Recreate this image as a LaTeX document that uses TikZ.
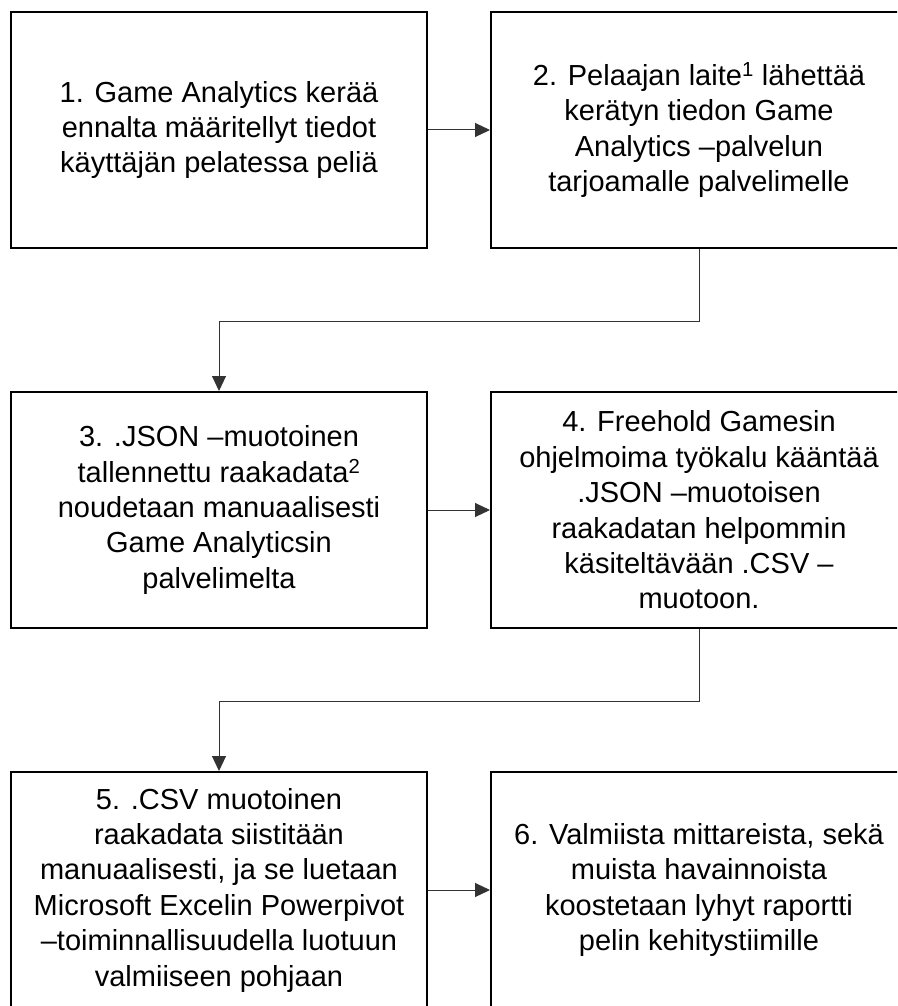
\documentclass[tikz,border=0pt]{standalone}
\usepackage{fontspec}
\setmainfont{Liberation Sans}
\usetikzlibrary{arrows.meta}
\begin{document}
\begin{tikzpicture}[x=1pt,y=-1pt,
  stepbox/.style={draw=black, line width=2pt, rectangle, minimum width=416pt, minimum height=236pt,
    align=center, inner sep=0pt, font=\fontsize{29}{35.4}\selectfont},
  flow/.style={draw=black!80, line width=1pt, -{Triangle[length=15pt,width=14pt]}}]
\useasboundingbox (0,0) rectangle (897,1006);
\fill[white] (0,0) rectangle (897,1006);
\clip (0,0) rectangle (897,1006);
\node[stepbox] (b1) at (219,130) {1. Game Analytics kerää\\ennalta määritellyt tiedot\\käyttäjän pelatessa peliä};
\node[stepbox] (b2) at (699,130) {2. Pelaajan laite\textsuperscript{1} lähettää\\kerätyn tiedon Game\\Analytics –palvelun\\tarjoamalle palvelimelle};
\node[stepbox] (b3) at (219,510) {3. .JSON –muotoinen\\tallennettu raakadata\textsuperscript{2}\\noudetaan manuaalisesti\\Game Analyticsin\\palvelimelta};
\node[stepbox] (b4) at (699,510) {4. Freehold Gamesin\\ohjelmoima työkalu kääntää\\.JSON –muotoisen\\raakadatan helpommin\\käsiteltävään .CSV –\\muotoon.};
\node[stepbox] (b5) at (219,890) {5. .CSV muotoinen\\raakadata siistitään\\manuaalisesti, ja se luetaan\\Microsoft Excelin Powerpivot\\–toiminnallisuudella luotuun\\valmiiseen pohjaan};
\node[stepbox] (b6) at (699,890) {6. Valmiista mittareista, sekä\\muista havainnoista\\koostetaan lyhyt raportti\\pelin kehitystiimille};
\draw[flow] (b1.east) -- (b2.west);
\draw[flow] (b3.east) -- (b4.west);
\draw[flow] (b5.east) -- (b6.west);
\draw[flow] (b2.south) -- ++(0,72) -| (b3.north);
\draw[flow] (b4.south) -- ++(0,72) -| (b5.north);
\end{tikzpicture}
\end{document}
